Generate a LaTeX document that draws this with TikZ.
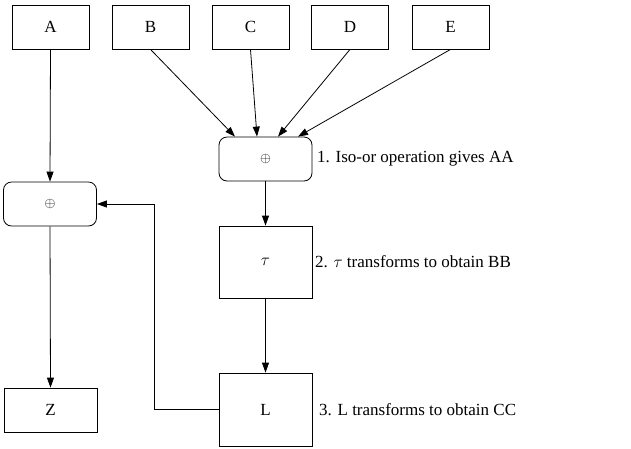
\RequirePackage{fix-cm}
\documentclass[tikz,border=0pt]{standalone}
\usepackage{fontspec}
\setmainfont{Liberation Serif}
\usetikzlibrary{arrows.meta}
\begin{document}
\begin{tikzpicture}[x=1pt,y=-1pt,
  every node/.style={font=\fontsize{17pt}{20pt}\selectfont, inner sep=0pt},
  box/.style={draw, line width=0.8pt, minimum width=#1, minimum height=44},
  box/.default=77,
  opbox/.style={draw, line width=0.8pt, rounded corners=8pt, minimum width=93, minimum height=44},
  flow/.style={draw, line width=0.8pt, -{Triangle[length=10pt,width=7pt]}},
  note/.style={anchor=west}]
  \useasboundingbox (0,0) rectangle (631,448);

  % input blocks
  \node[box] (A) at (50.5,27) {A};
  \node[box] (B) at (150.5,27) {B};
  \node[box] (C) at (250.5,27) {C};
  \node[box] (D) at (350,27) {D};
  \node[box] (E) at (450.5,27) {E};

  % xor stages
  \node[opbox] (xa) at (265.5,159) {{\fontsize{14pt}{16pt}\selectfont$\oplus$}};
  \node[opbox] (xl) at (50,204) {{\fontsize{14pt}{16pt}\selectfont$\oplus$}};

  % transforms and output
  \node[box=93, minimum height=72] (tau) at (265.5,262) {$\tau$};
  \node[box=93, minimum height=73] (L) at (265.5,409.5) {L};
  \node[box=93] (Z) at (50.5,410) {Z};

  % step descriptions
  \node[note] (n1) at (317,159) {1. Iso-or operation gives AA};
  \node[note] (n2) at (315,262) {2. $\tau$ transforms to obtain BB};
  \node[note] (n3) at (319,410) {3. L transforms to obtain CC};

  % connectors
  \draw[flow] (B.south) -- ([xshift=-30.5pt]xa.north);
  \draw[flow] (C.south) -- ([xshift=-8.5pt]xa.north);
  \draw[flow] (D.south) -- ([xshift=12.5pt]xa.north);
  \draw[flow] (E.south) -- ([xshift=32.5pt]xa.north);
  \draw[flow] (A.south) -- (xl.north);
  \draw[flow] (xa.south) -- (tau.north);
  \draw[flow] (tau.south) -- (L.north);
  \draw[flow] (xl.south) -- (Z.north);
  \draw[flow] (L.west) -- ++(-64,0) |- (xl.east);
\end{tikzpicture}
\end{document}
